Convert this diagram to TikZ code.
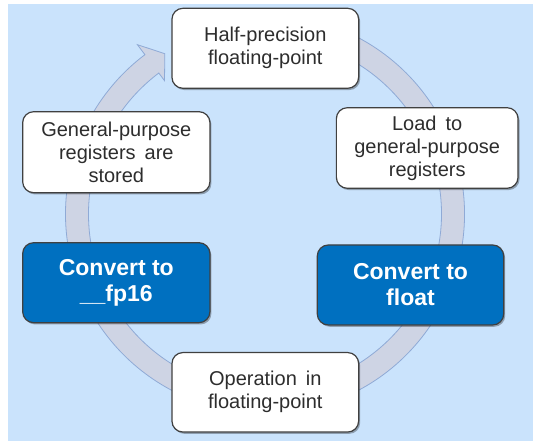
\documentclass[tikz,border=0pt]{standalone}
\usepackage{fontspec}
\setmainfont{Liberation Sans}
\usetikzlibrary{shadows}
\definecolor{bgblue}{RGB}{202,227,252}
\definecolor{ringfill}{RGB}{206,212,228}
\definecolor{ringline}{RGB}{143,170,214}
\definecolor{boxblue}{RGB}{0,112,192}
\definecolor{boxline}{RGB}{64,64,64}
\definecolor{txt}{RGB}{45,45,45}
\begin{document}
\begin{tikzpicture}[x=1pt,y=1pt,
  basebox/.style={rounded corners=11pt, draw=boxline, line width=1.2pt, inner sep=0pt, align=center,
    drop shadow={shadow xshift=1.5pt, shadow yshift=-1.8pt, opacity=0.3, fill=black}},
  wbox/.style={basebox, fill=white, text=txt, font=\fontsize{20}{23}\selectfont},
  bbox/.style={basebox, fill=boxblue, text=white, font=\bfseries\fontsize{23}{26}\selectfont}]
\useasboundingbox (0,0) rectangle (533,441);
\fill[white] (0,0) rectangle (533,441);
\fill[bgblue] (8,0) rectangle (533,437);
\begin{scope}[shift={(265,227)}]
\filldraw[fill=ringfill, draw=ringline, line width=0.8pt]
  (105:199.5pt) arc[start angle=105, end angle=-233, radius=199.5pt]
  -- (-233:212pt) -- (-238:189pt) -- (-233:167pt) -- (-233:176.5pt)
  arc[start angle=-233, end angle=105, radius=176.5pt] -- cycle;
\end{scope}
\node[wbox, minimum width=186.7pt, minimum height=80pt] (half) at (265.3,392.7) {Half-precision\\floating-point};
\node[wbox, minimum width=181.7pt, minimum height=80.6pt] (load) at (427.2,293) {Load\hspace{9pt}to\\general-purpose\\registers};
\node[bbox, minimum width=186.4pt, minimum height=80pt] (tofloat) at (410.5,156) {Convert to\\float};
\node[wbox, minimum width=186.7pt, minimum height=79.5pt] (oper) at (265.3,48.7) {Operation\hspace{9pt}in\\floating-point};
\node[bbox, minimum width=187.3pt, minimum height=80pt] (tofp) at (116.3,158.3) {Convert to\\\_\_fp16};
\node[wbox, minimum width=187.3pt, minimum height=81pt] (store) at (116.3,288.8) {General-purpose\\registers\hspace{9pt}are\\stored};
\end{tikzpicture}
\end{document}
